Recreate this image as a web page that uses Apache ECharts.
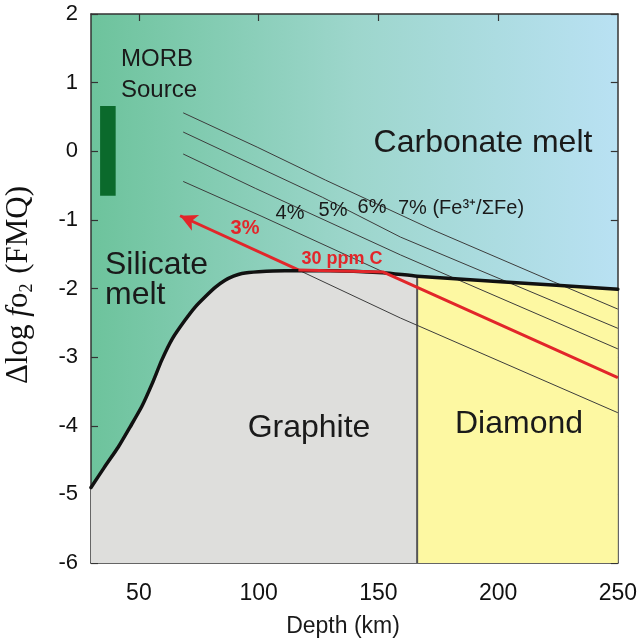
<!DOCTYPE html>
<html>
<head>
<meta charset="utf-8">
<script src="https://cdn.jsdelivr.net/npm/echarts@6/dist/echarts.min.js"></script>
<style>
  html, body { margin: 0; padding: 0; background: #ffffff; }
  #chart { width: 640px; height: 642px; }
</style>
</head>
<body>
<div id="chart"></div>
<script>
// Axis ticks
const depthTicks = [50, 100, 150, 200, 250];
const depthInnerTicks = [50, 100, 150, 200];

// Carbon saturation limit: depth (km), Δlog fO2 (FMQ)
const boundaryDepth = [30, 35.5, 41.4, 46.3, 51.2, 55.5, 59.6, 64, 69.3, 73.5, 77.7, 82, 86, 89.5, 93, 100, 111, 130, 152, 166.2, 201, 250];
const boundaryFO2   = [-4.9, -4.61, -4.31, -4.02, -3.72, -3.39, -3.04, -2.73, -2.46, -2.27, -2.12, -1.98, -1.88, -1.82, -1.78, -1.755, -1.74, -1.74, -1.77, -1.82, -1.9, -2.01];

// Graphite / diamond transition depth (km)
const graphiteDiamondDepth = 166.2;

// Fe3+/ΣFe isopleths
const iso4Depth = [68.5, 101.4, 152.1, 250];
const iso4FO2   = [-0.44, -0.95, -1.76, -3.30];
const iso5Depth = [68.5, 98.6, 159.2, 250];
const iso5FO2   = [-0.04, -0.54, -1.51, -2.88];
const iso6Depth = [68.5, 126.6, 159.2, 250];
const iso6FO2   = [0.28, -0.67, -1.25, -2.58];
const iso7Depth = [68.5, 99.4, 127.9, 173, 223, 250];
const iso7FO2   = [0.56, 0.06, -0.42, -1.15, -1.9, -2.3];
const iso3Depth = [116.6, 159.2, 250];
const iso3FO2   = [-1.73, -2.43, -3.81];

// Path of a mantle with 3% Fe3+/ΣFe (upwelling)
const pathDepth = [250, 152.1, 116.6];
const pathFO2   = [-3.30, -1.76, -1.73];
const arrowDepth = [116.6, 67.2];
const arrowFO2   = [-1.73, -0.94];

// MORB source range
const morbDepth = [33.8, 40.3];
const morbFO2   = [-0.65, 0.66];

const pairs = (xs, ys) => xs.map((x, i) => [x, ys[i]]);
const boundary = pairs(boundaryDepth, boundaryFO2);
const graphiteEdge = boundary.filter(p => p[0] <= graphiteDiamondDepth);
const diamondEdge = boundary.filter(p => p[0] >= graphiteDiamondDepth);
const edgeAtTransition = boundaryFO2[boundaryDepth.indexOf(graphiteDiamondDepth)];

const SANS = '"Liberation Sans", Arial, sans-serif';
const SERIF = '"Liberation Serif", "Times New Roman", serif';
const RED = '#e2262a';
const FRAME = '#333333';
const INK = '#1a1a1a';
const CURVE_SMOOTH = 0.2;

const thinLine = (xs, ys) => ({
  type: 'line', data: pairs(xs, ys), symbol: 'none', silent: true, z: 4,
  lineStyle: { color: '#3c3c3c', width: 1 }
});

const label = (text, x, y, font, extra) => ({
  type: 'text', x, y, z: 10,
  style: Object.assign({ text, font, fill: INK, align: 'center', verticalAlign: 'middle' }, extra || {})
});

const chart = echarts.init(document.getElementById('chart'), null, { renderer: 'canvas' });

chart.setOption({
  animation: false,
  grid: {
    left: 91, right: 22, top: 14, bottom: 79,
    show: true,
    borderWidth: 0,
    backgroundColor: new echarts.graphic.LinearGradient(0, 0, 1, 0, [
      { offset: 0, color: '#6dc39c' },
      { offset: 0.5, color: '#9dd6cc' },
      { offset: 1, color: '#b9e1f3' }
    ])
  },
  xAxis: [
    {
      type: 'value', min: 30, max: 250, position: 'bottom',
      axisLine: { onZero: false, lineStyle: { color: FRAME, width: 1.5 } },
      axisTick: { inside: true, length: 7, customValues: depthInnerTicks, lineStyle: { color: FRAME, width: 1.2 } },
      axisLabel: { customValues: depthTicks, margin: 19, fontFamily: SANS, fontSize: 23, color: '#111' },
      splitLine: { show: false }
    },
    {
      type: 'value', min: 30, max: 250, position: 'top',
      axisLine: { onZero: false, lineStyle: { color: FRAME, width: 1.5 } },
      axisTick: { inside: true, length: 7, customValues: depthInnerTicks, lineStyle: { color: FRAME, width: 1.2 } },
      axisLabel: { show: false },
      splitLine: { show: false }
    }
  ],
  yAxis: [
    {
      type: 'value', min: -6, max: 2, interval: 1, position: 'left',
      axisLine: { show: true, onZero: false, lineStyle: { color: FRAME, width: 1.5 } },
      axisTick: { show: true, inside: true, length: 7, lineStyle: { color: FRAME, width: 1.2 } },
      axisLabel: { margin: 13, fontFamily: SANS, fontSize: 22, color: '#111' },
      splitLine: { show: false }
    },
    {
      type: 'value', min: -6, max: 2, interval: 1, position: 'right',
      axisLine: { show: true, onZero: false, lineStyle: { color: FRAME, width: 1.5 } },
      axisTick: { show: true, inside: true, length: 7, lineStyle: { color: FRAME, width: 1.2 } },
      axisLabel: { show: false },
      splitLine: { show: false }
    }
  ],
  series: [
    // Graphite field
    {
      type: 'line', data: graphiteEdge, symbol: 'none', silent: true, z: 1,
      smooth: CURVE_SMOOTH,
      lineStyle: { width: 0 },
      areaStyle: { origin: 'start', color: '#dededc', opacity: 1 }
    },
    // Diamond field
    {
      type: 'line', data: diamondEdge, symbol: 'none', silent: true, z: 1,
      lineStyle: { width: 0 },
      areaStyle: { origin: 'start', color: '#fdf8a2', opacity: 1 }
    },
    // Graphite / diamond divide
    {
      type: 'line', data: [[graphiteDiamondDepth, edgeAtTransition], [graphiteDiamondDepth, -6]],
      symbol: 'none', silent: true, z: 2,
      lineStyle: { color: '#555555', width: 2 }
    },
    thinLine(iso7Depth, iso7FO2),
    thinLine(iso6Depth, iso6FO2),
    thinLine(iso5Depth, iso5FO2),
    thinLine(iso4Depth, iso4FO2),
    thinLine(iso3Depth, iso3FO2),
    // Carbon saturation limit
    {
      type: 'line', data: boundary, symbol: 'none', silent: true, z: 5,
      smooth: CURVE_SMOOTH,
      lineStyle: { color: '#111111', width: 3.5, join: 'round', cap: 'round' }
    },
    // 3% mantle path
    {
      type: 'line', data: pairs(pathDepth, pathFO2), symbol: 'none', silent: true, z: 6,
      lineStyle: { color: RED, width: 3 },
      markLine: {
        silent: true,
        symbol: ['none', 'arrow'],
        symbolSize: [13, 17],
        label: { show: false },
        lineStyle: { color: RED, width: 3, type: 'solid' },
        data: [[
          { coord: [arrowDepth[0], arrowFO2[0]] },
          { coord: [arrowDepth[1], arrowFO2[1]] }
        ]]
      }
    },
    // MORB source bar
    {
      type: 'custom', silent: true, z: 6,
      data: [[morbDepth[0], morbFO2[1], morbDepth[1], morbFO2[0]]],
      renderItem: (params, api) => {
        const a = api.coord([api.value(0), api.value(1)]);
        const b = api.coord([api.value(2), api.value(3)]);
        return {
          type: 'rect',
          shape: { x: a[0], y: a[1], width: b[0] - a[0], height: b[1] - a[1] },
          style: { fill: '#0b6a2c' }
        };
      }
    }
  ],
  graphic: [
    label('MORB', 121, 59, '24px ' + SANS, { align: 'left' }),
    label('Source', 121, 90, '24px ' + SANS, { align: 'left' }),
    label('Carbonate melt', 483, 143, '32px ' + SANS),
    label('Silicate', 105, 265, '32px ' + SANS, { align: 'left' }),
    label('melt', 105, 295, '32px ' + SANS, { align: 'left' }),
    label('Graphite', 309, 428, '32px ' + SANS),
    label('Diamond', 519, 424, '32px ' + SANS),
    label('4%', 290, 213, '20px ' + SANS),
    label('5%', 333, 210, '20px ' + SANS),
    label('6%', 372, 207, '20px ' + SANS),
    label('7% (Fe\u00b3\u207a/\u03a3Fe)', 398, 208, '20px ' + SANS, { align: 'left' }),
    label('3%', 245, 228, 'bold 20px ' + SANS, { fill: RED }),
    label('30 ppm C', 342, 259, 'bold 18px ' + SANS, { fill: RED }),
    label('Depth (km)', 343, 627, '23px ' + SANS),
    {
      type: 'text', x: 19, y: 285, rotation: Math.PI / 2, z: 10,
      style: {
        text: '{n|\u0394log }{i|f}{n|o}{s|2}{n| (FMQ)}',
        align: 'center', verticalAlign: 'middle', fill: '#111',
        rich: {
          n: { fontFamily: SERIF, fontSize: 31, lineHeight: 34, fill: '#111' },
          i: { fontFamily: SERIF, fontSize: 31, fontStyle: 'italic', lineHeight: 34, fill: '#111' },
          s: { fontFamily: SERIF, fontSize: 18, lineHeight: 34, verticalAlign: 'bottom', padding: [12, 2, 0, 0], fill: '#111' }
        }
      }
    }
  ]
});
</script>
</body>
</html>
